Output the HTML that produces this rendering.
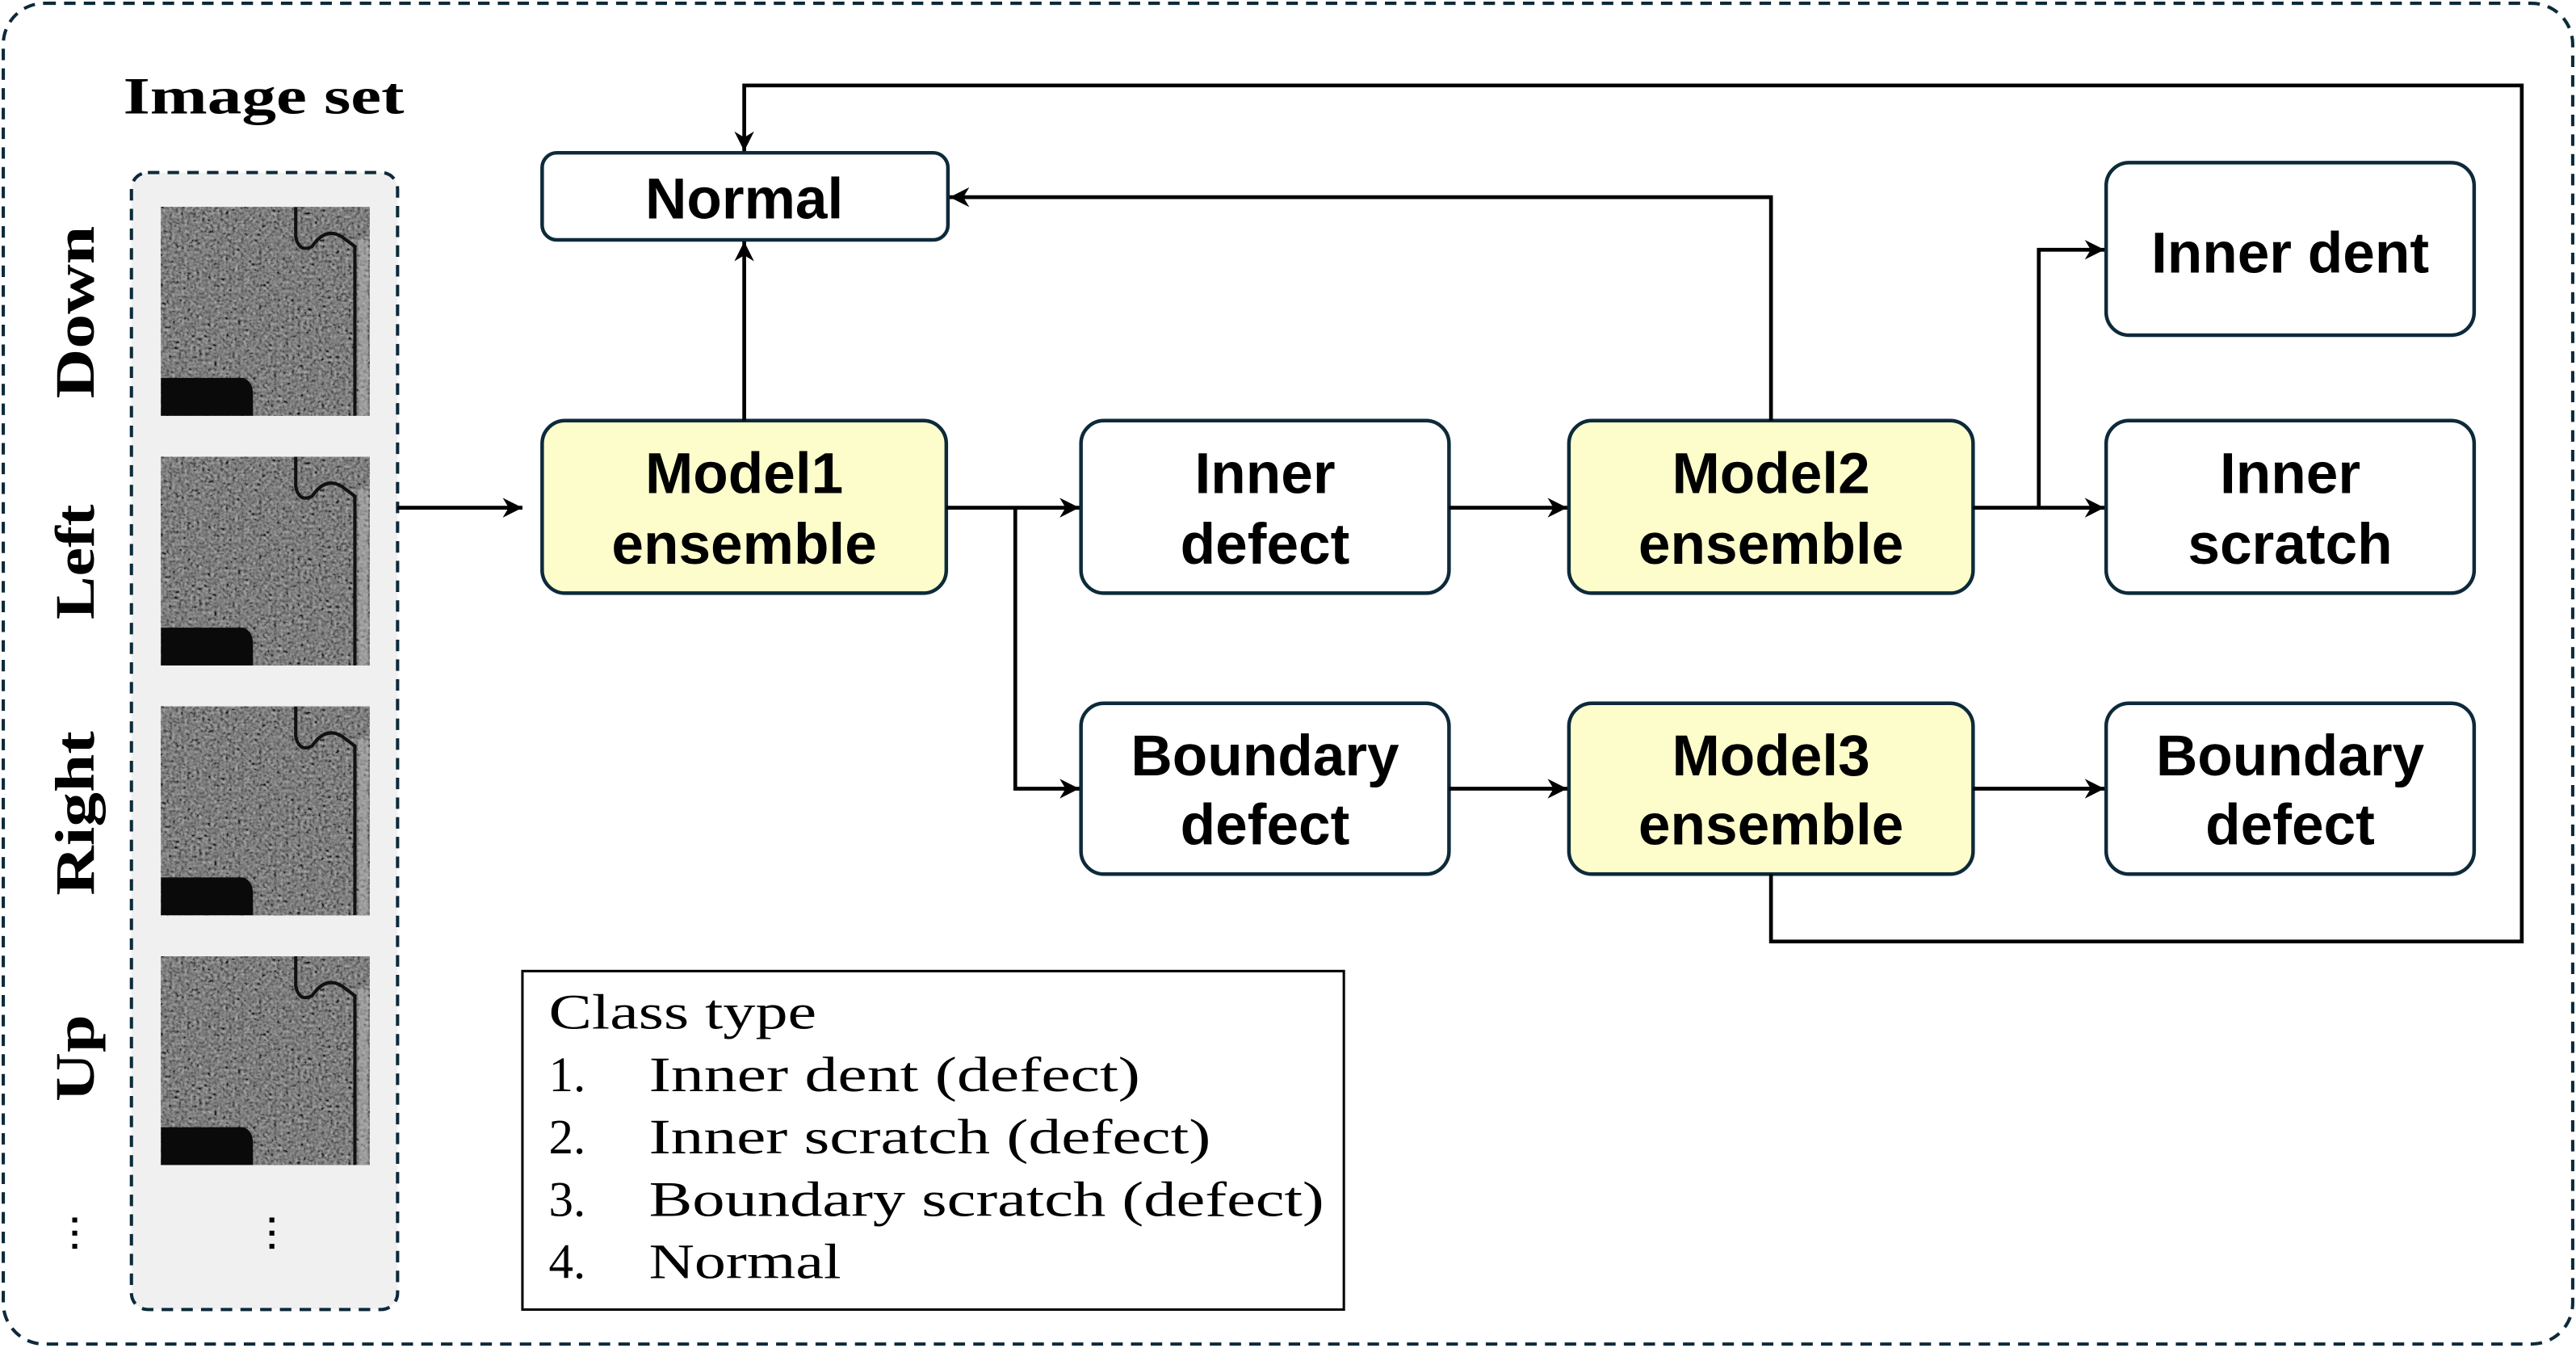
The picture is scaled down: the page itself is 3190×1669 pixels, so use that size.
<!DOCTYPE html>
<html><head><meta charset="utf-8"><style>
html,body{margin:0;padding:0;background:#fff;}
svg{display:block;}
.b{font-family:"Liberation Sans",sans-serif;font-weight:bold;font-size:35px;fill:#000;text-anchor:middle;}
.s{font-family:"Liberation Serif",serif;fill:#000;}
</style></head><body>
<svg width="3190" height="1669" viewBox="0 0 1568 820.4" preserveAspectRatio="none" xmlns="http://www.w3.org/2000/svg">
<defs>
<marker id="a2" viewBox="0 0 10 10" refX="10" refY="5" markerWidth="12" markerHeight="12" orient="auto" markerUnits="userSpaceOnUse">
<path d="M0,0 L10,5 L0,10 L3,5 z" fill="#000"/></marker>
<filter id="n" x="0" y="0" width="100%" height="100%">
<feTurbulence type="fractalNoise" baseFrequency="0.55" numOctaves="2" seed="3"/>
<feColorMatrix type="matrix" values="0.33 0.33 0.33 0 0  0.33 0.33 0.33 0 0  0.33 0.33 0.33 0 0  0 0 0 0 1"/>
<feComponentTransfer><feFuncR type="linear" slope="1.8" intercept="-0.55"/><feFuncG type="linear" slope="1.8" intercept="-0.55"/><feFuncB type="linear" slope="1.8" intercept="-0.55"/></feComponentTransfer>
</filter>
<g id="img">
<rect x="0" y="0" width="127" height="127" filter="url(#n)"/>
<rect x="0" y="0" width="127" height="127" fill="#333" opacity="0.3"/>
<path d="M82,0 L82,18 Q84,28 92,24 Q100,12 110,18 L118,24 L118,127" fill="none" stroke="#111" stroke-width="2"/>
<rect x="120" y="20" width="6" height="107" fill="#bbb" opacity="0.5"/>
<path d="M0,104 L50,104 Q56,106 56,114 L56,127 L0,127 z" fill="#0a0a0a"/>
</g>
</defs>
<rect x="2" y="2" width="1564" height="816" rx="25" fill="none" stroke="#0d2a3a" stroke-width="2" stroke-dasharray="7,5"/>
<text x="75" y="69" class="s" font-size="32" font-weight="bold" textLength="171" lengthAdjust="spacingAndGlyphs">Image set</text>
<rect x="80" y="105" width="162" height="692" rx="10" fill="#f0f0f0" stroke="#0d2a3a" stroke-width="2" stroke-dasharray="7,5"/>
<use href="#img" x="98" y="126"/>
<use href="#img" x="98" y="278"/>
<use href="#img" x="98" y="430"/>
<use href="#img" x="98" y="582"/>
<g class="s" font-size="34" font-weight="bold" text-anchor="middle">
<text transform="translate(57,190) rotate(-90)" textLength="105" lengthAdjust="spacingAndGlyphs">Down</text>
<text transform="translate(57,342) rotate(-90)" textLength="70" lengthAdjust="spacingAndGlyphs">Left</text>
<text transform="translate(57,495) rotate(-90)" textLength="100" lengthAdjust="spacingAndGlyphs">Right</text>
<text transform="translate(57,644) rotate(-90)" textLength="53" lengthAdjust="spacingAndGlyphs">Up</text>
</g>
<g fill="#000"><rect x="44" y="741" width="3" height="3"/><rect x="44" y="749" width="3" height="3"/><rect x="44" y="757" width="3" height="3"/>
<rect x="164" y="741" width="3" height="3"/><rect x="164" y="749" width="3" height="3"/><rect x="164" y="757" width="3" height="3"/></g>
<g stroke="#0d2a3a" stroke-width="2.2">
<rect x="330" y="93" width="247" height="53" rx="9" fill="#fff"/>
<rect x="330" y="256" width="246" height="105" rx="14" fill="#fdfdcc"/>
<rect x="658" y="256" width="224" height="105" rx="14" fill="#fff"/>
<rect x="955" y="256" width="246" height="105" rx="14" fill="#fdfdcc"/>
<rect x="1282" y="99" width="224" height="105" rx="14" fill="#fff"/>
<rect x="1282" y="256" width="224" height="105" rx="14" fill="#fff"/>
<rect x="658" y="428" width="224" height="104" rx="14" fill="#fff"/>
<rect x="955" y="428" width="246" height="104" rx="14" fill="#fdfdcc"/>
<rect x="1282" y="428" width="224" height="104" rx="14" fill="#fff"/>
</g>
<text class="b" x="453" y="133">Normal</text>
<text class="b" x="453" y="300">Model1</text><text class="b" x="453" y="343">ensemble</text>
<text class="b" x="770" y="300">Inner</text><text class="b" x="770" y="343">defect</text>
<text class="b" x="1078" y="300">Model2</text><text class="b" x="1078" y="343">ensemble</text>
<text class="b" x="1394" y="166">Inner dent</text>
<text class="b" x="1394" y="300">Inner</text><text class="b" x="1394" y="343">scratch</text>
<text class="b" x="770" y="472">Boundary</text><text class="b" x="770" y="514">defect</text>
<text class="b" x="1078" y="472">Model3</text><text class="b" x="1078" y="514">ensemble</text>
<text class="b" x="1394" y="472">Boundary</text><text class="b" x="1394" y="514">defect</text>
<g fill="none" stroke="#000" stroke-width="2.3">
<path d="M242,309 H318" marker-end="url(#a2)"/>
<path d="M453,256 V147" marker-end="url(#a2)"/>
<path d="M576,309 H657" marker-end="url(#a2)"/>
<path d="M618,309 V480 H657" marker-end="url(#a2)"/>
<path d="M882,309 H954" marker-end="url(#a2)"/>
<path d="M1078,256 V120 H578" marker-end="url(#a2)"/>
<path d="M1201,309 H1281" marker-end="url(#a2)"/>
<path d="M1241,309 V152 H1281" marker-end="url(#a2)"/>
<path d="M882,480 H954" marker-end="url(#a2)"/>
<path d="M1201,480 H1281" marker-end="url(#a2)"/>
<path d="M1078,532 V573 H1535 V52 H453 V92" marker-end="url(#a2)"/>
</g>
<rect x="318" y="591" width="500" height="206" fill="#fff" stroke="#000" stroke-width="1.5"/>
<g class="s" font-size="30">
<text x="334" y="626" textLength="163" lengthAdjust="spacingAndGlyphs">Class type</text>
<text x="334" y="664">1.</text><text x="395" y="664" textLength="299" lengthAdjust="spacingAndGlyphs">Inner dent (defect)</text>
<text x="334" y="702">2.</text><text x="395" y="702" textLength="342" lengthAdjust="spacingAndGlyphs">Inner scratch (defect)</text>
<text x="334" y="740">3.</text><text x="395" y="740" textLength="411" lengthAdjust="spacingAndGlyphs">Boundary scratch (defect)</text>
<text x="334" y="778">4.</text><text x="395" y="778" textLength="117" lengthAdjust="spacingAndGlyphs">Normal</text>
</g>
</svg>
</body></html>
